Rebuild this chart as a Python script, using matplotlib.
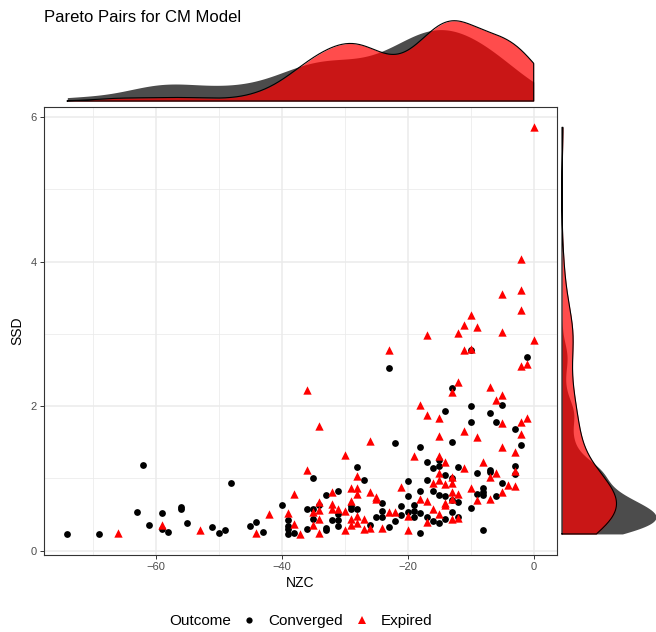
import numpy as np
import matplotlib
matplotlib.use("Agg")
import matplotlib.pyplot as plt
from matplotlib.lines import Line2D

plt.rcParams["font.family"] = ["Liberation Sans", "DejaVu Sans"]

# ------------------------------------------------------------
# data
# ------------------------------------------------------------
conv_nzc = [-74, -69, -63, -62, -61, -59, -59, -58, -56, -56, -55, -51, -50, -49, -48,
            -45, -44, -43, -40, -39, -39, -39, -39, -38,
            -36, -36, -35, -35, -35, -34, -33, -33, -33, -32, -31, -31, -31, -31,
            -29, -29, -28, -28, -27, -26, -25, -24, -24, -24, -23, -23, -22, -22,
            -21, -21, -20, -20, -20, -19, -19, -19,
            -18, -18, -18, -18, -17, -17, -17, -16, -16, -16, -15, -15, -15, -15,
            -14, -14, -14, -14, -13, -13, -13, -13, -13, -12, -12, -12,
            -10, -10, -10, -10, -9, -9, -8, -8, -8, -8, -7, -7, -7, -6, -6,
            -5, -5, -3, -3, -3, -2, -1]
conv_ssd = [0.23, 0.23, 0.54, 1.19, 0.36, 0.52, 0.30, 0.26, 0.61, 0.58, 0.38, 0.33, 0.24, 0.29, 0.94,
            0.34, 0.39, 0.26, 0.63, 0.43, 0.34, 0.30, 0.23, 0.24,
            0.58, 0.30, 1.01, 0.58, 0.44, 0.63, 0.77, 0.31, 0.29, 0.42, 0.83, 0.51, 0.42, 0.34,
            0.62, 0.58, 1.16, 0.58, 0.98, 0.36, 0.46, 0.66, 0.55, 0.46, 2.53, 0.32, 1.49, 0.41,
            0.62, 0.49, 0.97, 0.75, 0.54, 0.63, 0.55, 0.46,
            1.43, 0.83, 0.52, 0.24, 1.22, 0.98, 0.47, 1.14, 0.82, 0.41, 1.25, 1.17, 0.77, 0.38,
            1.93, 1.05, 0.76, 0.44, 2.25, 1.50, 1.00, 0.70, 0.54, 1.16, 0.67, 0.47,
            2.78, 2.00, 1.78, 0.59, 1.08, 0.79, 0.86, 0.81, 0.77, 0.28, 1.91, 1.12, 1.09, 1.78, 0.75,
            2.01, 0.94, 1.69, 1.17, 1.06, 1.46, 2.68]

exp_nzc = [-66, -59, -53, -44, -42, -39, -38, -38, -37,
           -36, -36, -35, -35, -34, -34, -34, -34, -34, -32, -32, -32, -31, -30, -30, -30,
           -29, -29, -29, -29, -28, -28, -28, -28, -28, -27, -27, -26, -26, -26, -25, -25,
           -24, -23, -23, -22, -21, -20, -20, -19,
           -18, -18, -17, -17, -17, -17, -16, -16, -15, -15, -15, -15, -15, -15,
           -14, -14, -14, -14, -13, -13, -13, -13, -13, -13, -12, -12, -12, -12,
           -11, -11, -11, -11, -10, -10, -10, -9, -9, -9, -8, -7, -7, -7, -6, -6,
           -5, -5, -5, -5, -5, -5, -4, -3, -3, -3, -2, -2, -2, -2, -2, -2, -1, -1, 0, 0]
exp_ssd = [0.25, 0.36, 0.28, 0.25, 0.51, 0.52, 0.79, 0.37, 0.23,
           2.22, 1.11, 0.53, 0.36, 1.72, 0.67, 0.56, 0.44, 0.25, 0.81, 0.65, 0.57, 0.58, 1.32, 0.55, 0.29,
           0.86, 0.69, 0.44, 0.35, 1.03, 0.86, 0.79, 0.48, 0.38, 0.44, 0.30, 1.52, 0.81, 0.31, 0.74, 0.71,
           0.31, 2.78, 0.53, 0.53, 0.88, 0.48, 0.29, 1.31,
           2.02, 0.71, 2.98, 1.88, 0.69, 0.40, 0.93, 0.57, 1.83, 1.58, 1.31, 1.07, 0.98, 0.51,
           1.22, 0.92, 0.66, 0.63, 2.19, 1.02, 0.93, 0.81, 0.72, 0.44, 3.01, 2.34, 0.78, 0.45,
           3.12, 2.78, 1.66, 1.15, 3.26, 2.79, 0.87, 3.10, 1.57, 0.70, 1.22, 2.26, 1.02, 0.72, 2.09, 1.07,
           3.55, 3.03, 2.16, 1.76, 1.43, 0.81, 0.91, 1.37, 1.10, 0.89, 4.03, 3.61, 3.33, 2.55, 1.78, 1.62,
           2.58, 1.83, 5.86, 2.92]

outcomes = ["Converged", "Expired"]
colors = {"Converged": "black", "Expired": "red"}


def kde(vals, grid, adjust=1.0):
    """gaussian density, bw.nrd0 like R"""
    vals = np.asarray(vals, float)
    n = len(vals)
    sd = vals.std(ddof=1)
    q75, q25 = np.percentile(vals, [75, 25])
    bw = adjust * 0.9 * min(sd, (q75 - q25) / 1.34) * n ** -0.2
    z = (grid[:, None] - vals[None, :]) / bw
    return np.exp(-0.5 * z ** 2).sum(axis=1) / (n * bw * np.sqrt(2 * np.pi))


W, H = 656, 632


def rect(l, t, r, b):
    return [l / W, 1 - b / H, (r - l) / W, (b - t) / H]


fig = plt.figure(figsize=(W / 100, H / 100), dpi=100)

# ------------------------------------------------------------
# main scatter
# ------------------------------------------------------------
ax = fig.add_axes(rect(44, 107, 557, 555))
ax.set_xlim(-77.7, 3.7)
ax.set_ylim(-0.0615, 6.1415)
ax.set_xticks([-60, -40, -20, 0])
ax.set_xticks([-70, -50, -30, -10], minor=True)
ax.set_yticks([0, 2, 4, 6])
ax.set_yticks([1, 3, 5], minor=True)
ax.grid(which="major", color="#EBEBEB", lw=1.1)
ax.grid(which="minor", color="#EBEBEB", lw=0.55)
ax.set_axisbelow(True)
ax.tick_params(which="major", length=3, width=0.7, color="#333333",
               labelcolor="#4D4D4D", labelsize=8, pad=2)
ax.tick_params(which="minor", length=0)
for s in ax.spines.values():
    s.set_color("#333333")
    s.set_linewidth(0.8)
ax.set_xlabel("NZC", fontsize=10, labelpad=3)
ax.set_ylabel("SSD", fontsize=10, labelpad=5)

ax.scatter(conv_nzc, conv_ssd, s=24, marker="o", color=colors["Converged"],
           linewidths=0, zorder=3)
ax.scatter(exp_nzc, exp_ssd, s=36, marker="^", color=colors["Expired"],
           linewidths=0, zorder=3)

# ------------------------------------------------------------
# marginal densities
# ------------------------------------------------------------
gx = np.linspace(min(conv_nzc + exp_nzc), max(conv_nzc + exp_nzc), 400)
gy = np.linspace(min(conv_ssd + exp_ssd), max(conv_ssd + exp_ssd), 400)
dx = {"Converged": kde(conv_nzc, gx, 0.85), "Expired": kde(exp_nzc, gx, 0.85)}
dy = {"Converged": kde(conv_ssd, gy), "Expired": kde(exp_ssd, gy)}

axt = fig.add_axes(rect(44, 20.7, 557, 101))
axt.set_xlim(ax.get_xlim())
axt.set_ylim(0, max(d.max() for d in dx.values()))
axr = fig.add_axes(rect(562, 107, 656, 555))
axr.set_ylim(ax.get_ylim())
axr.set_xlim(0, max(d.max() for d in dy.values()))
for a in (axt, axr):
    a.axis("off")

for k in outcomes:
    axt.fill_between(gx, 0, dx[k], color=colors[k], alpha=0.7, lw=0)
    axr.fill_betweenx(gy, 0, dy[k], color=colors[k], alpha=0.7, lw=0)
    if k == "Expired":
        px = np.r_[gx[0], gx, gx[-1], gx[0]]
        py = np.r_[0, dx[k], 0, 0]
        axt.plot(px, py, color="black", lw=0.8, clip_on=False)
        qy = np.r_[gy[0], gy, gy[-1], gy[0]]
        qx = np.r_[0, dy[k], 0, 0]
        axr.plot(qx, qy, color="black", lw=0.8, clip_on=False)

# ------------------------------------------------------------
# title + legend
# ------------------------------------------------------------
fig.text(44 / W, 1 - 17 / H, "Pareto Pairs for CM Model", fontsize=12,
         ha="left", va="center")
fig.text(169 / W, 1 - 621 / H, "Outcome", fontsize=11, ha="left", va="center")
handles = [Line2D([], [], ls="", marker="o", ms=4.5, color="black", mew=0),
           Line2D([], [], ls="", marker="^", ms=5.5, color="red", mew=0)]
fig.legend(handles, outcomes, loc="center left",
           bbox_to_anchor=(241.4 / W, 1 - 621 / H), ncol=2, frameon=False,
           fontsize=11, handlelength=1.0, handletextpad=0.74,
           columnspacing=0.75, borderpad=0, borderaxespad=0)

fig.savefig("out.png", dpi=100)
